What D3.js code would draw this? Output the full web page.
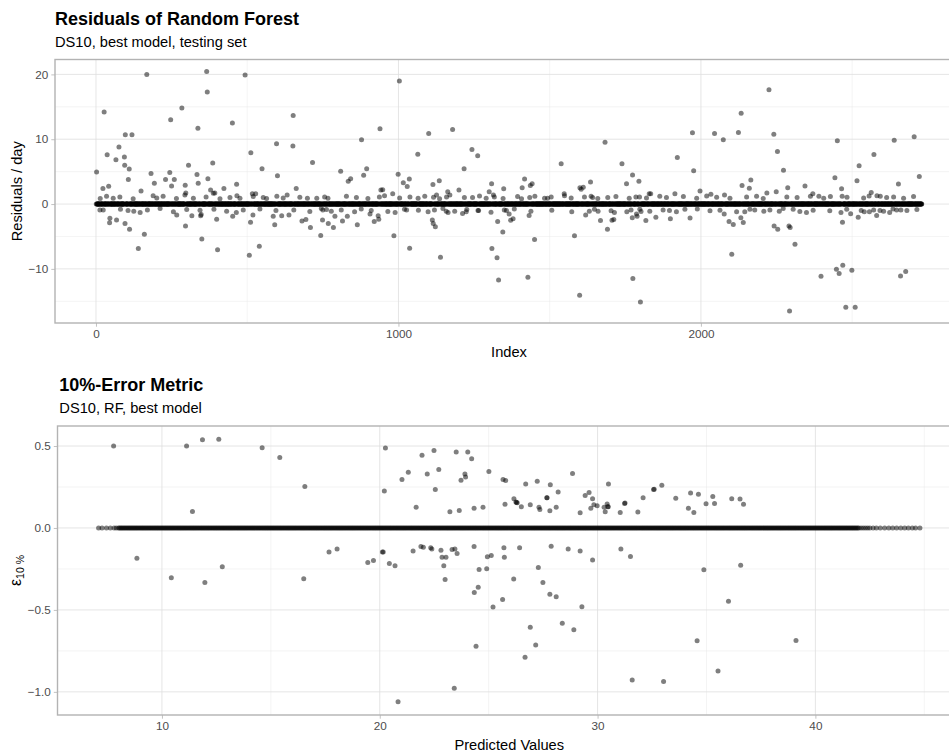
<!DOCTYPE html>
<html>
<head>
<meta charset="utf-8">
<script src="https://cdn.jsdelivr.net/npm/d3@7"></script>
<style>
  html, body { margin: 0; padding: 0; background: #ffffff; }
  svg { display: block; font-family: "Liberation Sans", Arial, Helvetica, sans-serif; }
</style>
</head>
<body>
<svg id="chart" width="949" height="753"></svg>
<script>
// ---------- Residuals of Random Forest (testing set, by index) ----------
const nObs = 2730;               // observations in the testing set
const xTicksTop = [0, 1000, 2000];
const yTicksTop = [-10, 0, 10, 20];

// observations whose residual stands clearly off the zero band
const residualIndex = [
  2, 27, 168, 37, 23, 42, 35, 66, 76, 94, 95, 97, 119, 110, 107, 149, 13, 46, 45, 68,
  96, 111, 106, 140, 160, 146, 182, 193, 189, 230, 244, 250, 259, 247, 284, 306, 295, 294, 297, 296,
  267, 317, 337, 366, 368, 334, 338, 370, 379, 388, 393, 386, 350, 348, 346, 402, 399, 423, 451, 465,
  466, 452, 464, 493, 512, 517, 528, 507, 511, 519, 540, 549, 553, 597, 600, 598, 586, 591, 614, 632,
  638, 652, 651, 662, 681, 694, 709, 716, 743, 699, 750, 768,
  1003, 939, 878, 809, 842, 834, 885, 895, 942, 948, 981, 999, 1016, 1036, 1029, 1064, 1100, 1114, 1135, 1126,
  1163, 1170, 1179, 1200, 1217, 1243, 1262, 1245, 1308, 1300, 1314, 1348, 1417, 1409, 1436, 1442, 1407, 1493, 1538, 1548,
  1600, 1611, 1604, 1635, 1642, 1683, 1739, 1754, 1774, 1795, 1829,
  749, 785, 790, 815, 831, 864, 906, 920, 933, 935, 985, 989, 1037, 1027, 1112, 1115, 1122, 1119, 1139, 1158,
  1164, 1212, 1224, 1263, 1309, 1326, 1331, 1328, 1345, 1357, 1366, 1371, 1379, 1432, 1450, 1428, 1582, 1599, 1619, 1631,
  1668, 1660, 1691, 1706, 1712, 1714, 1755, 1773, 1787, 1818, 1775, 1800,
  2225, 2133, 1972, 2045, 2124, 2074, 2241, 2253, 2273, 1922, 1976, 1834, 1914, 1997, 2033, 2078, 2136, 2160, 2165, 2218,
  2249, 2287, 2344, 2370, 2390, 2451, 2443, 2465, 2467, 2572, 2523, 2516, 2563, 2556, 2582, 2639, 2705, 2653, 2722, 2614,
  1789, 1851, 1899, 1896, 1947, 1964, 2077, 2093, 2107, 2102, 2132, 2140, 2145, 2178, 2242, 2254, 2259, 2291, 2295, 2311,
  2293, 2305, 2349, 2397, 2448, 2457, 2468, 2499, 2479, 2510, 2463, 2469, 2495, 2520, 2530, 2557, 2581, 2592, 2624, 2660,
  2677, 2647, 2661
];
const residualValue = [
  4.95, 14.2, 20.0, 7.6, 2.4, 2.75, 1.2, 6.85, 8.8, 7.25, 6.0, 10.7, 10.7, 5.4, 3.8, 2.0, -0.9, -2.2, -2.9, -2.45,
  -3.0, -3.9, -1.0, -6.85, -4.65, -1.3, 4.7, 3.2, 1.3, 3.8, 4.85, 2.8, 3.8, 13.0, 14.8, 6.0, 2.9, 1.4, 1.7, -3.4,
  -1.7, -1.8, 11.7, 20.45, 17.3, 4.55, 3.2, 3.9, 2.15, 1.65, 1.7, 6.35, -5.4, -1.6, -1.8, -7.05, -2.35, 2.4, 12.5, 3.05,
  1.3, -1.9, -1.3, 19.9, 7.9, 1.6, 1.6, -7.9, -2.8, -1.7, -6.5, 5.45, 1.0, 9.3, 4.35, 1.2, -1.9, -3.2, -1.8, 1.4,
  -1.7, 13.65, 8.95, 2.4, -2.6, -2.4, -3.6, 6.4, -4.85, 0.9, -0.9, -3.0,
  19.0, 11.6, 9.9, 5.05, 3.9, 3.5, 4.45, 5.45, 2.15, 2.2, 1.6, 4.6, 3.3, 3.85, 2.7, 7.7, 10.9, 3.0, 3.6, 1.4,
  1.9, 1.4, 11.5, 2.15, 5.45, 8.4, 7.45, 1.0, 3.15, 1.9, 1.4, 2.35, 3.85, 2.5, 2.85, 3.15, 0.8, 0.9, 6.2, 1.6,
  2.5, 2.6, 2.3, 3.4, 1.0, 9.55, 6.2, 3.15, 4.5, 3.5, 1.6,
  -2.45, -3.6, -1.9, -2.6, -1.9, -3.2, -1.55, -2.7, -1.8, -2.35, -4.9, -1.3, -6.8, -0.9, -2.45, -3.0, -3.5, -0.9, -8.2, -1.1,
  -1.3, -1.45, -1.2, -1.0, -6.85, -8.3, -11.7, -2.7, -4.3, -1.0, -1.55, -2.5, -2.25, -1.75, -5.45, -11.3, -4.9, -14.05, -1.7, -1.1,
  -2.55, -1.1, -3.9, -2.5, -2.4, -1.3, -1.2, -2.1, -1.55, -2.55, -11.5, -15.1,
  17.65, 14.0, 11.0, 10.9, 11.05, 9.9, 10.75, 8.1, 5.2, 7.2, 5.15, 1.6, 1.6, 2.0, 1.5, 1.4, 2.85, 2.45, 3.7, 1.7,
  1.9, 2.5, 2.8, 1.6, 1.2, 9.75, 4.05, 2.35, 1.2, 7.65, 5.9, 3.6, 1.8, 1.25, 1.3, 9.85, 10.4, 3.1, 4.25, 1.0,
  -1.9, -2.05, -2.25, -1.0, -0.8, -2.15, -1.55, -2.7, -3.15, -7.75, -2.1, -2.85, -1.2, -0.9, -3.4, -3.9, -1.1, -3.4, -3.6, -6.2,
  -16.5, -0.8, -1.3, -11.15, -10.05, -10.7, -2.8, -10.2, -15.9, -15.9, -1.3, -9.45, -1.5, -2.05, -1.0, -1.2, -1.75, -1.0, -1.3, -11.1,
  -10.4, -0.9, -0.9
];

// small residuals hugging the zero band
const nearBandIndex = [
  14, 57, 79, 123, 201, 222, 266, 322, 364, 410, 443, 476, 520, 564, 619, 674, 730,
  24, 81, 125, 170, 212, 256, 300, 344, 390, 432, 487, 542, 595, 654, 707, 762,
  756, 767, 828, 861, 899, 937, 954, 1004, 1038, 1065, 1087, 1116, 1136, 1159, 1218, 1268, 1290, 1317, 1346, 1394,
  1434, 1451, 1483, 1505, 1549, 1571, 1615, 1637, 1659, 1692, 1719, 1763, 1797,
  745, 778, 811, 855, 877, 910, 965, 1020, 1066, 1098, 1147, 1186, 1226, 1265, 1306, 1350, 1383, 1438, 1507, 1573,
  1648, 1703, 1769, 1802,
  1785, 1820, 1864, 1886, 1942, 1986, 2019, 2052, 2096, 2151, 2184, 2206, 2284, 2318, 2362, 2406, 2428, 2483, 2538, 2593,
  2637, 2670, 2703,
  1798, 1831, 1875, 1919, 1988, 2030, 2063, 2118, 2162, 2208, 2228, 2272, 2327, 2371, 2426, 2482, 2540, 2571, 2604, 2635,
  2681, 2714
];
const nearBandValue = [
  0.85, 0.9, 1.1, 0.8, 0.95, 1.2, 0.85, 0.9, 1.1, 0.8, 1.0, 0.9, 1.15, 0.85, 0.95, 1.05, 0.9,
  -0.9, -0.8, -1.1, -0.9, -0.7, -1.2, -0.85, -0.95, -0.8, -1.1, -0.9, -0.75, -1.0, -0.9, -1.15, -0.85,
  1.1, 0.9, 1.2, 1.0, 0.85, 1.1, 1.3, 0.95, 1.1, 0.9, 1.2, 1.05, 0.8, 1.1, 1.0, 1.25, 0.9, 1.1, 0.85, 1.15,
  1.0, 1.2, 0.9, 1.1, 1.3, 0.95, 1.1, 1.2, 0.85, 1.0, 1.15, 0.9, 1.1,
  -0.7, -1.1, -0.9, -1.2, -0.75, -1.0, -1.15, -0.8, -0.95, -1.2, -0.7, -1.1, -0.85, -1.0, -1.25, -0.9, -0.75, -1.1, -0.95, -1.2,
  -0.8, -1.05, -0.9, -1.15,
  1.1, 0.95, 1.2, 1.0, 1.15, 0.9, 1.25, 1.05, 0.9, 1.1, 1.2, 0.85, 1.1, 1.0, 1.2, 0.9, 1.15, 1.05, 0.95, 1.2,
  1.1, 0.9, 1.15,
  -0.8, -1.1, -0.9, -1.2, -0.75, -1.05, -0.95, -1.2, -0.8, -1.1, -0.9, -0.7, -1.15, -0.95, -1.05, -0.8, -1.2, -0.9, -1.1, -0.75,
  -1.0, -0.85
];

// ---------- 10%-Error Metric (by predicted value) ----------
const xTicksBottom = [10, 20, 30, 40];
const yTicksBottom = [-1.0, -0.5, 0.0, 0.5];

// predictions outside the 10% tolerance: predicted value and epsilon
const errPredicted = [
  7.78, 11.13, 11.86, 12.61, 14.6, 15.41, 16.56, 11.4,
  20.26, 20.21, 21.02, 21.31, 21.67, 21.94, 22.18, 22.49, 22.55, 22.71, 23.22, 23.51, 23.65, 23.73, 23.91, 23.94,
  24.04, 24.22, 24.33, 24.74, 25.01, 25.66, 25.78, 25.75, 26.16, 26.25, 26.28, 26.31, 26.5, 26.7, 26.91, 27.23,
  27.31, 27.35, 27.67, 27.68, 27.83, 27.81, 28.1, 28.19, 28.85, 29.2, 29.43, 29.61, 29.77, 29.69, 29.83, 29.98,
  30.3, 30.35, 30.44, 30.47, 30.49, 30.5, 31.04, 31.24, 31.26, 31.85, 32.09, 32.57, 32.6, 32.95, 33.59, 34.17,
  34.27, 34.42, 34.63, 34.98, 35.29, 35.37, 36.16, 36.54, 36.7,
  8.85, 10.43, 11.97, 12.77, 16.51, 17.67, 18.04, 19.45, 19.71, 20.12, 20.16, 20.44, 20.7, 21.53, 21.89, 22.0,
  22.34, 22.39, 22.81, 22.86, 23.04, 22.94, 23.0, 23.32, 23.45, 23.55, 23.42, 24.33, 24.34, 24.52, 24.56, 24.42,
  24.91, 24.94, 25.12, 25.2, 25.64, 25.7, 25.72, 26.15, 26.42, 26.67, 26.91, 27.16, 27.28, 27.49, 27.81, 27.87,
  28.1, 28.38, 28.65, 28.91, 29.2, 29.28, 29.77, 31.07, 31.51, 31.59, 20.84, 34.88, 36.57, 36.01, 34.57, 39.11,
  35.53, 33.03
];
const errValue = [
  0.50, 0.50, 0.538, 0.542, 0.49, 0.43, 0.253, 0.10,
  0.488, 0.226, 0.296, 0.34, 0.126, 0.443, 0.33, 0.472, 0.235, 0.356, 0.099, 0.463, 0.107, 0.291, 0.33, 0.311,
  0.463, 0.423, 0.121, 0.126, 0.344, 0.296, 0.29, 0.144, 0.178, 0.158, 0.156, 0.154, 0.129, 0.269, 0.141, 0.285,
  0.126, 0.113, 0.184, 0.184, 0.263, 0.105, 0.126, 0.22, 0.332, 0.093, 0.198, 0.217, 0.178, 0.12, 0.141, 0.135,
  0.126, 0.099, 0.146, 0.13, 0.129, 0.269, 0.095, 0.15, 0.152, 0.097, 0.184, 0.235, 0.237, 0.261, 0.182, 0.12,
  0.214, 0.095, 0.206, 0.148, 0.192, 0.15, 0.178, 0.176, 0.144,
  -0.184, -0.304, -0.332, -0.237, -0.31, -0.146, -0.129, -0.21, -0.198, -0.146, -0.146, -0.217, -0.231, -0.14, -0.113, -0.117,
  -0.12, -0.129, -0.136, -0.178, -0.178, -0.231, -0.314, -0.132, -0.128, -0.156, -0.978, -0.113, -0.393, -0.362, -0.253, -0.722,
  -0.249, -0.176, -0.168, -0.482, -0.437, -0.121, -0.178, -0.312, -0.121, -0.789, -0.605, -0.714, -0.241, -0.332, -0.405, -0.111,
  -0.419, -0.581, -0.128, -0.621, -0.14, -0.48, -0.196, -0.128, -0.174, -0.927, -1.061, -0.255, -0.227, -0.447, -0.688, -0.686,
  -0.872, -0.937
];

// predictions within the 10% tolerance (epsilon = 0)
const bandPredicted = [
  7.09, 7.25, 7.45, 7.63, 7.8, 7.9,
  8, 8.05, 8.1, 8.15, 8.2, 8.25, 8.3, 8.35, 8.4, 8.45, 8.5, 8.55, 8.6, 8.65, 8.7, 8.75, 8.8, 8.85, 8.9, 8.95,
  9, 9.05, 9.1, 9.15, 9.2, 9.25, 9.3, 9.35, 9.4, 9.45, 9.5, 9.55, 9.6, 9.65, 9.7, 9.75, 9.8, 9.85, 9.9, 9.95,
  10, 10.05, 10.1, 10.15, 10.2, 10.25, 10.3, 10.35, 10.4, 10.45, 10.5, 10.55, 10.6, 10.65, 10.7, 10.75, 10.8, 10.85, 10.9, 10.95,
  11, 11.05, 11.1, 11.15, 11.2, 11.25, 11.3, 11.35, 11.4, 11.45, 11.5, 11.55, 11.6, 11.65, 11.7, 11.75, 11.8, 11.85, 11.9, 11.95,
  12, 12.05, 12.1, 12.15, 12.2, 12.25, 12.3, 12.35, 12.4, 12.45, 12.5, 12.55, 12.6, 12.65, 12.7, 12.75, 12.8, 12.85, 12.9, 12.95,
  13, 13.05, 13.1, 13.15, 13.2, 13.25, 13.3, 13.35, 13.4, 13.45, 13.5, 13.55, 13.6, 13.65, 13.7, 13.75, 13.8, 13.85, 13.9, 13.95,
  14, 14.05, 14.1, 14.15, 14.2, 14.25, 14.3, 14.35, 14.4, 14.45, 14.5, 14.55, 14.6, 14.65, 14.7, 14.75, 14.8, 14.85, 14.9, 14.95,
  15, 15.05, 15.1, 15.15, 15.2, 15.25, 15.3, 15.35, 15.4, 15.45, 15.5, 15.55, 15.6, 15.65, 15.7, 15.75, 15.8, 15.85, 15.9, 15.95,
  16, 16.05, 16.1, 16.15, 16.2, 16.25, 16.3, 16.35, 16.4, 16.45, 16.5, 16.55, 16.6, 16.65, 16.7, 16.75, 16.8, 16.85, 16.9, 16.95,
  17, 17.05, 17.1, 17.15, 17.2, 17.25, 17.3, 17.35, 17.4, 17.45, 17.5, 17.55, 17.6, 17.65, 17.7, 17.75, 17.8, 17.85, 17.9, 17.95,
  18, 18.05, 18.1, 18.15, 18.2, 18.25, 18.3, 18.35, 18.4, 18.45, 18.5, 18.55, 18.6, 18.65, 18.7, 18.75, 18.8, 18.85, 18.9, 18.95,
  19, 19.05, 19.1, 19.15, 19.2, 19.25, 19.3, 19.35, 19.4, 19.45, 19.5, 19.55, 19.6, 19.65, 19.7, 19.75, 19.8, 19.85, 19.9, 19.95,
  20, 20.05, 20.1, 20.15, 20.2, 20.25, 20.3, 20.35, 20.4, 20.45, 20.5, 20.55, 20.6, 20.65, 20.7, 20.75, 20.8, 20.85, 20.9, 20.95,
  21, 21.05, 21.1, 21.15, 21.2, 21.25, 21.3, 21.35, 21.4, 21.45, 21.5, 21.55, 21.6, 21.65, 21.7, 21.75, 21.8, 21.85, 21.9, 21.95,
  22, 22.05, 22.1, 22.15, 22.2, 22.25, 22.3, 22.35, 22.4, 22.45, 22.5, 22.55, 22.6, 22.65, 22.7, 22.75, 22.8, 22.85, 22.9, 22.95,
  23, 23.05, 23.1, 23.15, 23.2, 23.25, 23.3, 23.35, 23.4, 23.45, 23.5, 23.55, 23.6, 23.65, 23.7, 23.75, 23.8, 23.85, 23.9, 23.95,
  24, 24.05, 24.1, 24.15, 24.2, 24.25, 24.3, 24.35, 24.4, 24.45, 24.5, 24.55, 24.6, 24.65, 24.7, 24.75, 24.8, 24.85, 24.9, 24.95,
  25, 25.05, 25.1, 25.15, 25.2, 25.25, 25.3, 25.35, 25.4, 25.45, 25.5, 25.55, 25.6, 25.65, 25.7, 25.75, 25.8, 25.85, 25.9, 25.95,
  26, 26.05, 26.1, 26.15, 26.2, 26.25, 26.3, 26.35, 26.4, 26.45, 26.5, 26.55, 26.6, 26.65, 26.7, 26.75, 26.8, 26.85, 26.9, 26.95,
  27, 27.05, 27.1, 27.15, 27.2, 27.25, 27.3, 27.35, 27.4, 27.45, 27.5, 27.55, 27.6, 27.65, 27.7, 27.75, 27.8, 27.85, 27.9, 27.95,
  28, 28.05, 28.1, 28.15, 28.2, 28.25, 28.3, 28.35, 28.4, 28.45, 28.5, 28.55, 28.6, 28.65, 28.7, 28.75, 28.8, 28.85, 28.9, 28.95,
  29, 29.05, 29.1, 29.15, 29.2, 29.25, 29.3, 29.35, 29.4, 29.45, 29.5, 29.55, 29.6, 29.65, 29.7, 29.75, 29.8, 29.85, 29.9, 29.95,
  30, 30.05, 30.1, 30.15, 30.2, 30.25, 30.3, 30.35, 30.4, 30.45, 30.5, 30.55, 30.6, 30.65, 30.7, 30.75, 30.8, 30.85, 30.9, 30.95,
  31, 31.05, 31.1, 31.15, 31.2, 31.25, 31.3, 31.35, 31.4, 31.45, 31.5, 31.55, 31.6, 31.65, 31.7, 31.75, 31.8, 31.85, 31.9, 31.95,
  32, 32.05, 32.1, 32.15, 32.2, 32.25, 32.3, 32.35, 32.4, 32.45, 32.5, 32.55, 32.6, 32.65, 32.7, 32.75, 32.8, 32.85, 32.9, 32.95,
  33, 33.05, 33.1, 33.15, 33.2, 33.25, 33.3, 33.35, 33.4, 33.45, 33.5, 33.55, 33.6, 33.65, 33.7, 33.75, 33.8, 33.85, 33.9, 33.95,
  34, 34.05, 34.1, 34.15, 34.2, 34.25, 34.3, 34.35, 34.4, 34.45, 34.5, 34.55, 34.6, 34.65, 34.7, 34.75, 34.8, 34.85, 34.9, 34.95,
  35, 35.05, 35.1, 35.15, 35.2, 35.25, 35.3, 35.35, 35.4, 35.45, 35.5, 35.55, 35.6, 35.65, 35.7, 35.75, 35.8, 35.85, 35.9, 35.95,
  36, 36.05, 36.1, 36.15, 36.2, 36.25, 36.3, 36.35, 36.4, 36.45, 36.5, 36.55, 36.6, 36.65, 36.7, 36.75, 36.8, 36.85, 36.9, 36.95,
  37, 37.05, 37.1, 37.15, 37.2, 37.25, 37.3, 37.35, 37.4, 37.45, 37.5, 37.55, 37.6, 37.65, 37.7, 37.75, 37.8, 37.85, 37.9, 37.95,
  38, 38.05, 38.1, 38.15, 38.2, 38.25, 38.3, 38.35, 38.4, 38.45, 38.5, 38.55, 38.6, 38.65, 38.7, 38.75, 38.8, 38.85, 38.9, 38.95,
  39, 39.05, 39.1, 39.15, 39.2, 39.25, 39.3, 39.35, 39.4, 39.45, 39.5, 39.55, 39.6, 39.65, 39.7, 39.75, 39.8, 39.85, 39.9, 39.95,
  40, 40.05, 40.1, 40.15, 40.2, 40.25, 40.3, 40.35, 40.4, 40.45, 40.5, 40.55, 40.6, 40.65, 40.7, 40.75, 40.8, 40.85, 40.9, 40.95,
  41, 41.05, 41.1, 41.15, 41.2, 41.25, 41.3, 41.35, 41.4, 41.45, 41.5, 41.55, 41.6, 41.65, 41.7, 41.75, 41.8, 41.85, 41.9, 41.95,
  42, 42.1, 42.2, 42.3, 42.4, 42.5,
  42.65, 42.8, 42.98, 43.18, 43.37, 43.55, 43.73, 43.92, 44.1, 44.27, 44.45, 44.6, 44.8
];

// ---------- drawing ----------
const svg = d3.select("#chart");
const C = {
  gridMajor: "#dedede",
  gridMinor: "#e8e8e8",
  border: "#b3b3b3",
  tick: "#b3b3b3",
  tickText: "#4d4d4d",
  text: "#000000"
};
const POINT_R = 2.5;
const POINT_ALPHA = 0.5;

// ggplot-like continuous expansion (5% on each side)
function expand(ext) {
  const pad = (ext[1] - ext[0]) * 0.05;
  return [ext[0] - pad, ext[1] + pad];
}

function drawPanel(cfg) {
  const { x, y, box, xTicks, yTicks, xMinor, yMinor, xFmt, yFmt } = cfg;
  const g = svg.append("g");

  // minor grid
  g.append("g").selectAll("line").data(xMinor).join("line")
    .attr("x1", d => x(d)).attr("x2", d => x(d))
    .attr("y1", box.top).attr("y2", box.bottom)
    .attr("stroke", C.gridMinor).attr("stroke-width", 0.5);
  g.append("g").selectAll("line").data(yMinor).join("line")
    .attr("x1", box.left).attr("x2", box.right)
    .attr("y1", d => y(d)).attr("y2", d => y(d))
    .attr("stroke", C.gridMinor).attr("stroke-width", 0.5);
  // major grid
  g.append("g").selectAll("line").data(xTicks).join("line")
    .attr("x1", d => x(d)).attr("x2", d => x(d))
    .attr("y1", box.top).attr("y2", box.bottom)
    .attr("stroke", C.gridMajor).attr("stroke-width", 0.8);
  g.append("g").selectAll("line").data(yTicks).join("line")
    .attr("x1", box.left).attr("x2", box.right)
    .attr("y1", d => y(d)).attr("y2", d => y(d))
    .attr("stroke", C.gridMajor).attr("stroke-width", 0.8);

  const pts = g.append("g");

  // axes built from the scales (tick marks + labels)
  const xAxis = d3.axisBottom(x).tickValues(xTicks).tickSize(3.7).tickPadding(3).tickFormat(xFmt);
  const yAxis = d3.axisLeft(y).tickValues(yTicks).tickSize(3.7).tickPadding(3).tickFormat(yFmt);
  const gx = g.append("g").attr("transform", `translate(0,${box.bottom})`).call(xAxis);
  const gy = g.append("g").attr("transform", `translate(${box.left},0)`).call(yAxis);
  [gx, gy].forEach(a => {
    a.select(".domain").remove();
    a.selectAll(".tick line").attr("stroke", C.tick).attr("stroke-width", 0.8);
    a.selectAll(".tick text")
      .attr("fill", C.tickText)
      .attr("font-size", "11.73px")
      .attr("font-family", "'Liberation Sans', Arial, sans-serif");
  });

  // panel border
  g.append("rect")
    .attr("x", box.left).attr("y", box.top)
    .attr("width", box.right - box.left).attr("height", box.bottom - box.top)
    .attr("fill", "none").attr("stroke", C.border).attr("stroke-width", 1.4);

  return pts;
}

function drawTitles(left, titleY, subY, title, subtitle) {
  svg.append("text").attr("x", left).attr("y", titleY)
    .attr("font-size", "18px").attr("font-weight", "bold").attr("fill", C.text)
    .text(title);
  svg.append("text").attr("x", left).attr("y", subY)
    .attr("font-size", "14.67px").attr("fill", C.text)
    .text(subtitle);
}

// ===== Panel 1: residuals vs index =====
{
  const box = { left: 55, right: 963, top: 59.5, bottom: 323 };
  const x = d3.scaleLinear().domain(expand([1, nObs])).range([box.left, box.right]);
  const y = d3.scaleLinear().domain(expand(d3.extent(residualValue))).range([box.bottom, box.top]);

  const pts = drawPanel({
    x, y, box,
    xTicks: xTicksTop, yTicks: yTicksTop,
    xMinor: [500, 1500, 2500], yMinor: [-15, -5, 5, 15],
    xFmt: d3.format("d"), yFmt: d3.format("d")
  });

  // every observation: residual 0 unless listed as off-band or near-band
  const listed = new Set(residualIndex.concat(nearBandIndex));
  const obs = d3.range(1, nObs + 1)
    .filter(i => !listed.has(i))
    .map(i => ({ i, r: 0 }))
    .concat(nearBandIndex.map((i, k) => ({ i, r: nearBandValue[k] })))
    .concat(residualIndex.map((i, k) => ({ i, r: residualValue[k] })));

  pts.selectAll("circle").data(obs).join("circle")
    .attr("cx", d => x(d.i)).attr("cy", d => y(d.r)).attr("r", POINT_R)
    .attr("fill", "#000").attr("fill-opacity", POINT_ALPHA);

  drawTitles(box.left, 24.7, 47, "Residuals of Random Forest", "DS10, best model, testing set");

  svg.append("text")
    .attr("x", (box.left + box.right) / 2).attr("y", 357.2)
    .attr("text-anchor", "middle").attr("font-size", "14.67px").attr("fill", C.text)
    .text("Index");
  svg.append("text")
    .attr("transform", `translate(21.5,${(box.top + box.bottom) / 2}) rotate(-90)`)
    .attr("text-anchor", "middle").attr("font-size", "14.67px").attr("fill", C.text)
    .text("Residuals / day");
}

// ===== Panel 2: 10%-error metric vs predicted =====
{
  const box = { left: 57.5, right: 961, top: 426, bottom: 715 };
  const allPred = bandPredicted.concat(errPredicted);
  const x = d3.scaleLinear().domain(expand(d3.extent(allPred))).range([box.left, box.right]);
  const y = d3.scaleLinear().domain(expand(d3.extent(errValue))).range([box.bottom, box.top]);

  const pts = drawPanel({
    x, y, box,
    xTicks: xTicksBottom, yTicks: yTicksBottom,
    xMinor: [15, 25, 35, 45], yMinor: [-0.75, -0.25, 0.25],
    xFmt: d3.format("d"), yFmt: d3.format(".1f")
  });

  const obs = bandPredicted.map(p => ({ p, e: 0 }))
    .concat(errPredicted.map((p, k) => ({ p, e: errValue[k] })));

  pts.selectAll("circle").data(obs).join("circle")
    .attr("cx", d => x(d.p)).attr("cy", d => y(d.e)).attr("r", POINT_R)
    .attr("fill", "#000").attr("fill-opacity", POINT_ALPHA);

  drawTitles(box.left + 1.8, 390.7, 413.3, "10%-Error Metric", "DS10, RF, best model");

  svg.append("text")
    .attr("x", (box.left + box.right) / 2).attr("y", 749.5)
    .attr("text-anchor", "middle").attr("font-size", "14.67px").attr("fill", C.text)
    .text("Predicted Values");

  const eps = svg.append("text")
    .attr("transform", `translate(21,${(box.top + box.bottom) / 2}) rotate(-90)`)
    .attr("text-anchor", "middle").attr("fill", C.text);
  eps.append("tspan").attr("font-size", "16px").text("ε");
  eps.append("tspan").attr("font-size", "10.5px").attr("dy", 3).text("10 %");
}
</script>
</body>
</html>
